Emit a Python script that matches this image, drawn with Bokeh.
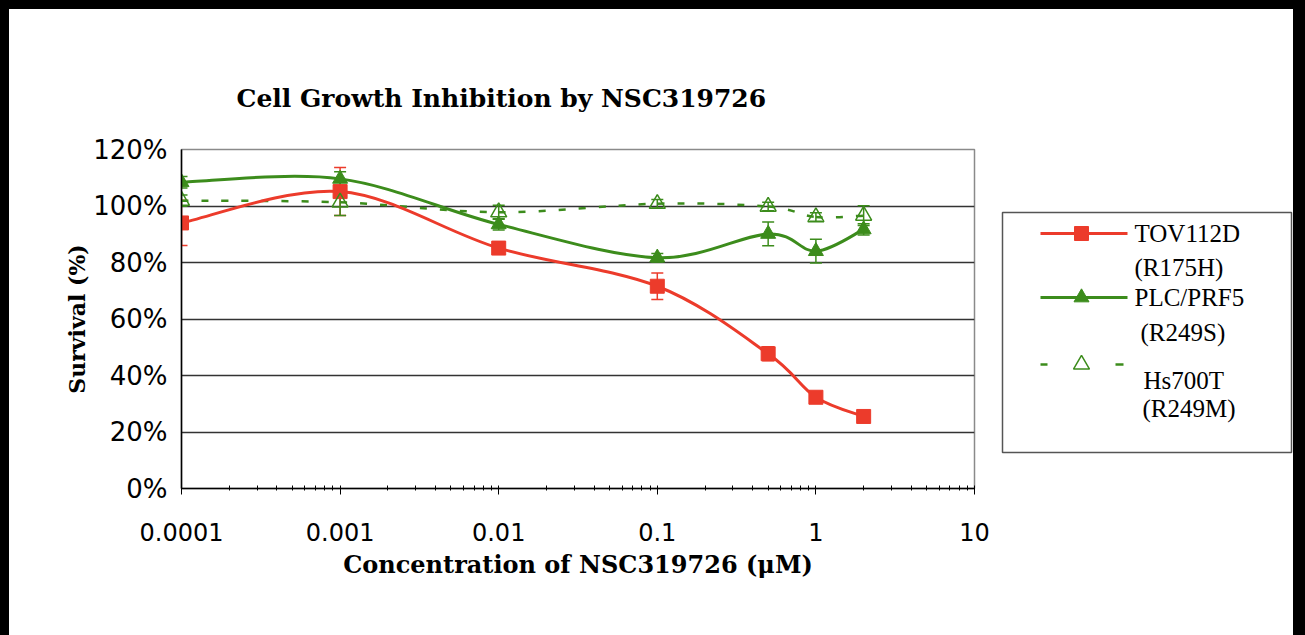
from bokeh.plotting import figure
from bokeh.models import (Range1d, FixedTicker, PrintfTickFormatter, ColumnDataSource,
                          Whisker, TeeHead, Spacer)
from bokeh.layouts import row, column
from bokeh.embed import file_html
from bokeh.resources import INLINE
import math

# ---------------- data ----------------
conc = [0.0001, 0.001, 0.01, 0.1, 0.5, 1, 2]
tov112d = [94.0, 105.1, 85.1, 71.6, 47.7, 32.3, 25.5]
tov112d_err = [8.0, 8.5, 1.5, 4.7, 2.5, 1.5, 1.0]
plc_prf5 = [108.4, 109.6, 93.5, 81.7, 90.1, 84.0, 91.7]
plc_prf5_err = [2.0, 2.5, 2.0, 1.5, 4.2, 4.2, 2.0]
hs700t = [101.9, 101.3, 97.8, 100.8, 99.8, 96.1, 96.6]
hs700t_err = [2.0, 4.7, 2.5, 1.5, 1.5, 1.5, 3.5]

series_names = ["TOV112D", "PLC/PRF5", "Hs700T"]
series_sub = ["(R175H)", "(R249S)", "(R249M)"]

x_ticks = [0.0001, 0.001, 0.01, 0.1, 1, 10]
x_tick_labels = ["0.0001", "0.001", "0.01", "0.1", "1", "10"]
y_ticks = [0, 20, 40, 60, 80, 100, 120]

title_text = "Cell Growth Inhibition by NSC319726"
x_title = "Concentration of NSC319726 (\u03bcM)"
y_title = "Survival (%)"

RED = "#EC3B2B"
GREEN = "#3C8C1C"

# ---------------- main figure ----------------
p = figure(width=991, height=626, x_axis_type="log",
           x_range=Range1d(0.0001, 10), y_range=Range1d(0, 120),
           output_backend="svg", toolbar_location=None,
           min_border_left=172, min_border_right=26,
           min_border_top=140, min_border_bottom=147)
p.background_fill_color = "white"
p.border_fill_color = "white"
p.outline_line_color = "#8a8a8a"
p.outline_line_width = 1.5

p.xgrid.visible = False
p.ygrid.grid_line_color = "#333333"
p.ygrid.grid_line_width = 1.5
p.ygrid.ticker = FixedTicker(ticks=y_ticks)

minor = [m * 10 ** k for k in range(-4, 1) for m in range(2, 10)]
p.xaxis.ticker = FixedTicker(ticks=x_ticks, minor_ticks=minor)
p.xaxis.major_label_overrides = {t: l for t, l in zip(x_ticks, x_tick_labels)}
p.yaxis.ticker = FixedTicker(ticks=y_ticks)
p.yaxis.formatter = PrintfTickFormatter(format="%d%%")

for ax in (p.xaxis[0], p.yaxis[0]):
    ax.axis_line_color = "black"
    ax.axis_line_width = 1.5
    ax.major_tick_line_color = "black"
    ax.minor_tick_line_color = "black"
    ax.major_label_text_font = "DejaVu Sans"
    ax.major_label_text_color = "black"
    ax.axis_label_text_font = "DejaVu Serif"
    ax.axis_label_text_font_style = "bold"
    ax.axis_label_text_color = "black"

p.xaxis.major_label_text_font_size = "24px"
p.yaxis.major_label_text_font_size = "26px"
p.xaxis.major_tick_in = 3
p.xaxis.major_tick_out = 6
p.xaxis.minor_tick_in = 3
p.xaxis.minor_tick_out = 2
p.xaxis.major_label_standoff = 28
p.xaxis.axis_label = x_title
p.xaxis.axis_label_text_font_size = "24px"
p.xaxis.axis_label_standoff = 6

p.yaxis.major_tick_in = 0
p.yaxis.major_tick_out = 0
p.yaxis.minor_tick_line_color = None
p.yaxis.major_label_standoff = 14
p.yaxis.axis_label = y_title
p.yaxis.axis_label_text_font_size = "22px"
p.yaxis.axis_label_standoff = 0

p.title.text = title_text
p.title.text_font = "DejaVu Serif"
p.title.text_font_style = "bold"
p.title.text_font_size = "25px"
p.title.text_color = "black"
p.title.align = "left"
p.title.offset = 55
p.title.standoff = 74


def smooth(xs, ys):
    lx = [math.log10(v) for v in xs]
    n = len(xs)
    out = dict(x0=[], y0=[], x1=[], y1=[], cx0=[], cy0=[], cx1=[], cy1=[])
    for i in range(n - 1):
        i0 = max(i - 1, 0)
        i3 = min(i + 2, n - 1)
        c1x = lx[i] + (lx[i + 1] - lx[i0]) / 6
        c1y = ys[i] + (ys[i + 1] - ys[i0]) / 6
        c2x = lx[i + 1] - (lx[i3] - lx[i]) / 6
        c2y = ys[i + 1] - (ys[i3] - ys[i]) / 6
        out["x0"].append(xs[i]); out["y0"].append(ys[i])
        out["x1"].append(xs[i + 1]); out["y1"].append(ys[i + 1])
        out["cx0"].append(10 ** c1x); out["cy0"].append(c1y)
        out["cx1"].append(10 ** c2x); out["cy1"].append(c2y)
    return ColumnDataSource(out)


def errorbars(xs, ys, es, color):
    src = ColumnDataSource(dict(x=xs, lo=[a - b for a, b in zip(ys, es)],
                                hi=[a + b for a, b in zip(ys, es)]))
    w = Whisker(base="x", lower="lo", upper="hi", source=src,
                line_color=color, line_width=1.5,
                upper_head=TeeHead(size=12, line_color=color, line_width=1.5),
                lower_head=TeeHead(size=12, line_color=color, line_width=1.5))
    p.add_layout(w)


# lines
p.bezier(x0="x0", y0="y0", x1="x1", y1="y1", cx0="cx0", cy0="cy0", cx1="cx1", cy1="cy1",
         source=smooth(conc, hs700t), line_color=GREEN, line_width=2.5, line_dash="7 13")
p.bezier(x0="x0", y0="y0", x1="x1", y1="y1", cx0="cx0", cy0="cy0", cx1="cx1", cy1="cy1",
         source=smooth(conc, tov112d), line_color=RED, line_width=3)
p.bezier(x0="x0", y0="y0", x1="x1", y1="y1", cx0="cx0", cy0="cy0", cx1="cx1", cy1="cy1",
         source=smooth(conc, plc_prf5), line_color=GREEN, line_width=3)

errorbars(conc, tov112d, tov112d_err, RED)
errorbars(conc, plc_prf5, plc_prf5_err, GREEN)
errorbars(conc, hs700t, hs700t_err, GREEN)

p.scatter(conc, tov112d, marker="square", size=14, fill_color=RED, line_color=RED)
p.scatter(conc, plc_prf5, marker="triangle", size=15, fill_color=GREEN, line_color=GREEN)
p.scatter(conc, hs700t, marker="triangle", size=16, fill_color=None, line_color=GREEN,
          line_width=1.5)

# ---------------- legend panel (coordinates = page pixels) ----------------
lg = figure(width=293, height=626, x_range=Range1d(1000, 1293), y_range=Range1d(488, 149),
            output_backend="svg", toolbar_location=None,
            x_axis_location=None, y_axis_location=None,
            min_border_left=0, min_border_right=0,
            min_border_top=140, min_border_bottom=147)
lg.grid.visible = False
lg.outline_line_color = None
lg.background_fill_color = "white"
lg.border_fill_color = "white"

lg.quad(left=[1002], right=[1291], top=[212], bottom=[452], fill_color=None,
        line_color="#555555", line_width=1.5)
# TOV112D
lg.line([1040, 1127], [233, 233], line_color=RED, line_width=3)
lg.scatter([1081], [233], marker="square", size=14, fill_color=RED, line_color=RED)
# PLC/PRF5
lg.line([1040, 1127], [297, 297], line_color=GREEN, line_width=3)
lg.scatter([1081], [297], marker="triangle", size=15, fill_color=GREEN, line_color=GREEN)
# Hs700T
lg.segment(x0=[1040, 1115], y0=[364, 364], x1=[1047, 1123], y1=[364, 364],
           line_color=GREEN, line_width=2.5)
lg.scatter([1081], [364], marker="triangle", size=16, fill_color=None, line_color=GREEN,
           line_width=1.5)

lg.text(x=[1134, 1134, 1143], y=[233, 297, 380], text=series_names,
        text_font="Liberation Serif", text_font_size="25px", text_color="black",
        text_baseline="middle", text_align="left")
lg.text(x=[1134, 1140, 1142], y=[267, 332, 408], text=series_sub,
        text_font="Liberation Serif", text_font_size="25px", text_color="black",
        text_baseline="middle", text_align="left")

inner = row(p, lg, styles={"background-color": "white"})
layout = column(Spacer(height=9), row(Spacer(width=9), inner))

html = file_html(layout, INLINE)
html = html.replace("<head>", "<head><style>html,body{background:#000;margin:0;padding:0;}</style>", 1)
open("out.html", "w").write(html)
